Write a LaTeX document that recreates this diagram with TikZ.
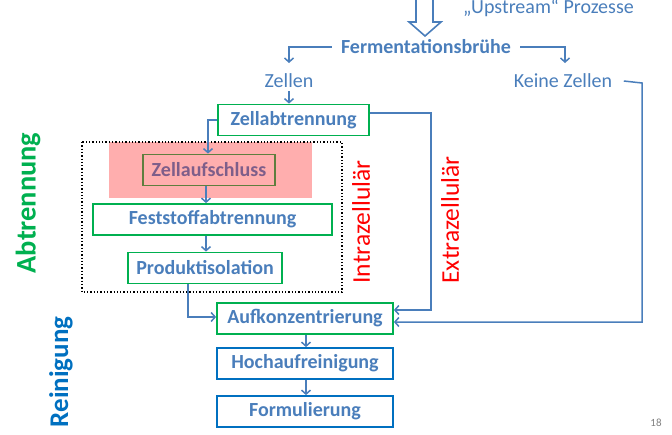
\documentclass[tikz,border=0pt]{standalone}
\usepackage{fontspec}
\setmainfont{Carlito}
\usetikzlibrary{arrows.meta}
\definecolor{lnblue}{RGB}{74,126,187}
\definecolor{bxgreen}{RGB}{0,176,80}
\definecolor{dkblue}{RGB}{0,112,192}
\definecolor{pinkbg}{RGB}{255,174,174}
\definecolor{mixtext}{RGB}{126,94,138}
\definecolor{mixborder}{RGB}{94,126,62}
\tikzset{
  box/.style={draw=bxgreen, line width=1.8pt, fill=white, text=lnblue, font=\fontsize{20}{22}\selectfont\bfseries, inner sep=0pt, minimum height=31pt},
  rbox/.style={box, draw=dkblue},
  lbl/.style={text=lnblue, font=\fontsize{20}{22}\selectfont, inner sep=0pt},
  conn/.style={draw=lnblue, line width=1.5pt, -{Straight Barb[length=4pt,width=9pt,line width=1.5pt]}},
  vlbl/.style={rotate=90, inner sep=0pt},
}
\begin{document}
\begin{tikzpicture}[x=1pt,y=-1pt]
\useasboundingbox (0,0) rectangle (672,434);
% big hollow arrow
\draw[lnblue, line width=1.6pt, line join=miter] (416,-3) -- (416,22) -- (409,22) -- (425,36) -- (441,22) -- (433,22) -- (433,-3);
\node[lbl, anchor=west] (up) at (463,8) {„Upstream“ Prozesse};
\node[lbl, font=\fontsize{20}{22}\selectfont\bfseries, inner xsep=9pt] (ferm) at (426,47) {Fermentationsbrühe};
\node[lbl] (zellen) at (289,81) {Zellen};
\node[lbl, inner xsep=11.5pt] (keine) at (563,81) {Keine Zellen};
\coordinate (zt) at (289,63);
\coordinate (kt) at (565,63);
\draw[conn] (ferm.west) -| (zt);
\draw[conn] (ferm.east) -| (kt);
% pink + dotted
\fill[pinkbg] (109,142) rectangle (312,198);
\draw[black, line width=1.3pt, dotted] (82,142) rectangle (342,292);
% boxes
\node[box, minimum width=151pt] (zab) at (293.5,120) {Zellabtrennung};
\node[box, minimum width=132pt, draw=mixborder, fill=none, text=mixtext] (zauf) at (209,170) {Zellaufschluss};
\node[box, minimum width=239pt] (fest) at (212.5,219.5) {Feststoffabtrennung};
\node[box, minimum width=154pt] (prod) at (205,268) {Produktisolation};
\node[box, minimum width=176pt] (auf) at (305,318.5) {Aufkonzentrierung};
\node[rbox, minimum width=176pt] (hoch) at (305,363.5) {Hochaufreinigung};
\node[rbox, minimum width=176pt] (form) at (305,411.5) {Formulierung};
% side labels
\node[vlbl, text=red, font=\fontsize{25.5}{27}\selectfont] (intra) at (361,222) {Intrazellulär};
\node[vlbl, text=red, font=\fontsize{25.5}{27}\selectfont] (extra) at (450,220) {Extrazellulär};
\node[vlbl, text=bxgreen, font=\fontsize{28.4}{30}\selectfont\bfseries] (abt) at (28,203) {Abtrennung};
\node[vlbl, text=dkblue, font=\fontsize{27}{29}\selectfont\bfseries] (rein) at (61,372) {Reinigung};
\node[text=gray, font=\fontsize{11}{13}\selectfont, inner sep=0pt] (pg) at (656,423) {18};
% connectors
\draw[conn] (zellen.south |- 0,91) -- (zab.north -| zellen.south);
\draw[conn] (zab.west) -- (208,120) -- (zauf.north -| 208,0);
\draw[conn] (zauf.south -| 206,0) -- (fest.north -| 206,0);
\draw[conn] (fest.south -| 206,0) -- (prod.north -| 206,0);
\draw[conn] (prod.south -| 188,0) |- (auf.west |- 0,317);
\draw[conn] ([yshift=7pt]zab.east) -- (431,113) |- ([yshift=8.5pt]auf.east);
\draw[conn] (keine.east) -- (642,83) |- ([yshift=-3.5pt]auf.east);
\draw[conn] (auf.south -| 306,0) -- (hoch.north -| 306,0);
\draw[conn] (hoch.south -| 306,0) -- (form.north -| 306,0);
\end{tikzpicture}
\end{document}
